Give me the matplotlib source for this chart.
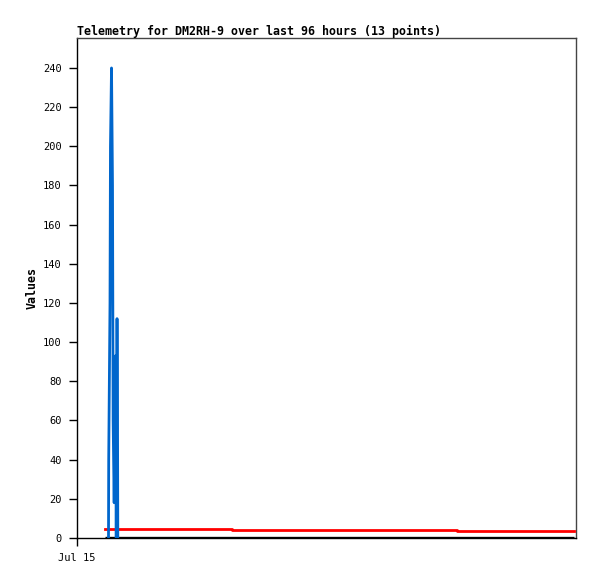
import matplotlib
matplotlib.use("Agg")
import matplotlib.pyplot as plt

# hours since start of window (Jul 15)
blue_hours = [6.06, 6.10, 6.35, 6.44, 6.64, 6.83, 6.95, 7.15, 7.41, 7.55, 7.70, 7.80, 7.85]
blue_values = [0, 40, 120, 200, 240, 180, 60, 18, 93, 0, 112, 56, 0]

red_hours = [5.4, 29.8, 73.1, 95.6]
red_values = [4.8, 4.3, 3.8, 3.8]

black_hours = [5.4, 95.6]
black_values = [0, 0]

x_ticks = [0]
x_tick_labels = ["Jul 15"]
y_ticks = list(range(0, 241, 20))

title = "Telemetry for DM2RH-9 over last 96 hours (13 points)"

mono = "DejaVu Sans Mono"
plt.rcParams['font.family'] = [mono]

fig = plt.figure(figsize=(5.97, 5.79), dpi=100)
ax = fig.add_axes([77/597, 41/579, 499/597, 500/579])

ax.plot(black_hours, black_values, color="black", lw=2.4, solid_capstyle="butt", zorder=2)
ax.step(red_hours, red_values, where="post", color="#ff0000", lw=2.0, zorder=3)
ax.plot(blue_hours, blue_values, color="#0066cc", lw=2.0, zorder=4)

ax.set_xlim(0, 96)
ax.set_ylim(0, 255.3)
ax.set_xticks(x_ticks)
ax.set_xticklabels(x_tick_labels)
ax.set_yticks(y_ticks)
ax.tick_params(axis="both", direction="out", length=6, width=1, labelsize=7.5, colors="black")
ax.tick_params(axis="y", pad=5)
ax.tick_params(axis="x", pad=5)

for side in ["left", "bottom"]:
    ax.spines[side].set_color("black")
    ax.spines[side].set_linewidth(1)
for side in ["top", "right"]:
    ax.spines[side].set_color("#444444")
    ax.spines[side].set_linewidth(1)

ax.set_ylabel("Values", fontsize=8.4, fontweight="bold", labelpad=3)
fig.text(77/597, 1 - 31/579, title, fontsize=8.4, fontweight="bold", ha="left", va="center")

fig.savefig("out.png", dpi=100, facecolor="white")
